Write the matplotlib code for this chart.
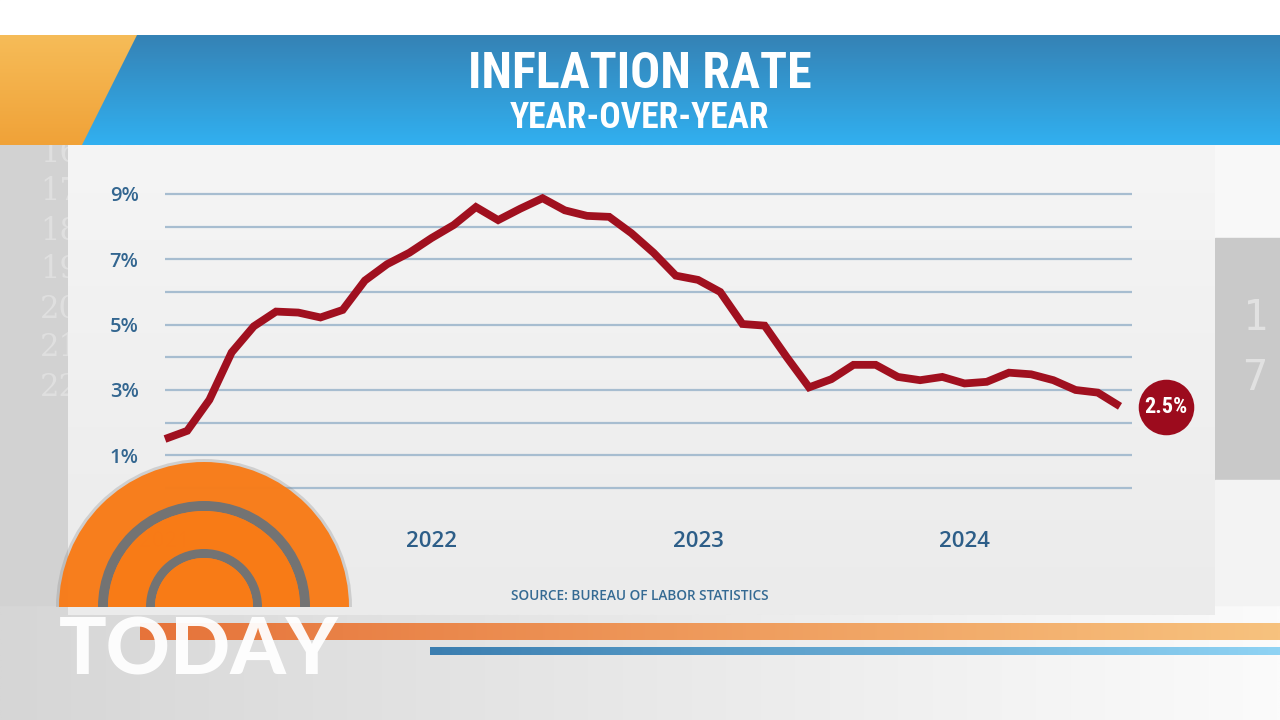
import numpy as np
import matplotlib
matplotlib.use('Agg')
import matplotlib.pyplot as plt
import matplotlib.transforms as mtransforms
from matplotlib import font_manager
from matplotlib.patches import Polygon, Rectangle, Wedge
from matplotlib.colors import to_rgb

# year-over-year inflation, monthly, Jan 2021 .. Aug 2024
rate_2021 = [1.5, 1.75, 2.7, 4.15, 4.95, 5.4, 5.37, 5.22, 5.45, 6.35, 6.85, 7.2]
rate_2022 = [7.65, 8.05, 8.6, 8.2, 8.55, 8.87, 8.5, 8.33, 8.3, 7.8, 7.2, 6.5]
rate_2023 = [6.37, 6.0, 5.02, 4.97, 4.0, 3.08, 3.33, 3.77, 3.77, 3.4, 3.3, 3.4]
rate_2024 = [3.2, 3.25, 3.53, 3.48, 3.3, 3.0, 2.92, 2.5]
rates = rate_2021 + rate_2022 + rate_2023 + rate_2024
months = np.arange(len(rates))

year_labels = ['2021', '2022', '2023', '2024']
year_ticks = [0, 12, 24, 36]
pct_ticks = [1, 3, 5, 7, 9]
pct_minor = [0, 2, 4, 6, 8]

title = 'INFLATION RATE'
subtitle = 'YEAR-OVER-YEAR'
source = 'SOURCE: BUREAU OF LABOR STATISTICS'

avail = {f.name for f in font_manager.fontManager.ttflist}
def pick(*names):
    for n in names:
        if n in avail:
            return n
    return 'DejaVu Sans'

narrow = pick('Roboto Condensed', 'Liberation Sans Narrow', 'Roboto', 'DejaVu Sans')
# the broadcast title face is very condensed: shrink wider fonts a bit
if narrow in ('Roboto Condensed', 'Liberation Sans Narrow'):
    title_size, sub_size = 36, 25.6
else:
    title_size, sub_size = 33, 22
body = pick('Open Sans', 'Lato', 'DejaVu Sans')
logo_font = pick('Lato', 'DejaVu Sans')

W, H = 1280, 720
fig = plt.figure(figsize=(12.8, 7.2), dpi=100)
fig.patch.set_facecolor('#e9e9e9')

bg = fig.add_axes([0, 0, 1, 1], zorder=0)
bg.axis('off')


def grad(ax, x0, x1, y0, y1, c0, c1, vertical=False, clip=None, z=0):
    t = np.linspace(0, 1, 256)[:, None]
    a, b = np.array(to_rgb(c0)), np.array(to_rgb(c1))
    col = a + (b - a) * t
    img = col[:, None, :] if vertical else col[None, :, :]
    im = ax.imshow(img, extent=(x0, x1, y1, y0), origin='upper',
                   aspect='auto', zorder=z, interpolation='bilinear')
    if clip is not None:
        im.set_clip_path(clip)
    return im


# white top strip
bg.add_patch(Rectangle((0, 0), W, 36, color='white', zorder=0))
# lower background
grad(bg, 0, W, 600, H, '#d6d6d6', '#fbfbfb', z=0)
# left grey strip with faint numbers
bg.add_patch(Rectangle((0, 145), 70, 460, color='#d2d2d2', zorder=1))
for i, s in enumerate(['16', '17', '18', '19', '20', '21', '22']):
    bg.text(40, 153 + i * 39, s, color='white', alpha=0.3, fontsize=22,
            family='DejaVu Serif', va='center', zorder=1.2)
# right grey box
bg.add_patch(Rectangle((1215, 145), 65, 95, color='#f8f8f8', zorder=1))
bg.add_patch(Rectangle((1215, 238), 65, 242, color='#c9c9c9', zorder=1))
bg.add_patch(Rectangle((1215, 480), 65, 125, color='#f3f3f3', zorder=1))
bg.text(1255, 318, '1', color='white', alpha=0.45, fontsize=30,
        family='DejaVu Sans Mono', ha='center', va='center', zorder=1.2)
bg.text(1255, 378, '7', color='white', alpha=0.45, fontsize=30,
        family='DejaVu Sans Mono', ha='center', va='center', zorder=1.2)
# chart panel
grad(bg, 68, 1215, 145, 615, '#f5f5f5', '#ebebeb', vertical=True, z=2)

# banner
grad(bg, 0, W, 35, 145, '#3582b5', '#31b0f0', vertical=True, z=3)
orange_poly = Polygon([(0, 35), (137, 35), (82, 145), (0, 145)],
                      closed=True, transform=bg.transData)
grad(bg, 0, 140, 35, 145, '#f6bc58', '#f0a238', vertical=True,
     clip=orange_poly, z=3.5)
bg.text(640, 74, title, color='white', fontsize=title_size, fontweight='bold',
        family=narrow, ha='center', va='center', zorder=4)
bg.text(640, 118, subtitle, color='white', fontsize=sub_size,
        fontweight='bold', family=narrow, ha='center', va='center', zorder=4)

# bottom bars
grad(bg, 140, W, 623, 640, '#e6733a', '#f7c27e', z=4)
grad(bg, 430, W, 647, 655, '#3b7eb0', '#8fd3f4', z=4)

bg.text(640, 596, source, color='#356a93', fontsize=9.8, fontweight='semibold',
        family=body, ha='center', va='center', zorder=4)

bg.set_xlim(0, W)
bg.set_ylim(H, 0)

# ---------------- chart ----------------
px_month = 955 / 43
px_pct = 32.67
ylo, yhi = -0.3, 9.3
xhi = (1132 - 165) / px_month
left = 165 / W
bottom = (720 - (488 - ylo * px_pct)) / H
ax = fig.add_axes([left, bottom, (1132 - 165) / W, (yhi - ylo) * px_pct / H],
                  zorder=1)
ax.set_facecolor('none')
for sp in ax.spines.values():
    sp.set_visible(False)
ax.set_xlim(0, xhi)
ax.set_ylim(ylo, yhi)

ax.set_yticks(pct_ticks, [f'{v}%' for v in pct_ticks])
ax.set_yticks(pct_minor, minor=True)
ax.set_xticks(year_ticks, year_labels)
ax.grid(axis='y', which='both', color='#a7bdd0', lw=1.6)
ax.tick_params(axis='both', which='both', length=0)
ax.tick_params(axis='y', pad=19, labelsize=14.5, labelcolor='#336690')
ax.tick_params(axis='x', pad=24, labelsize=16, labelcolor='#2d5e88')
for lab in ax.get_xticklabels() + ax.get_yticklabels():
    lab.set_family(body)
    lab.set_fontweight('semibold')

ax.plot(months, rates, color='#a0101f', lw=5.6, solid_joinstyle='miter',
        solid_capstyle='butt', clip_on=False, zorder=3)

trans = mtransforms.offset_copy(ax.transData, fig=fig, x=46, y=-1, units='dots')
ax.plot([months[-1]], [rates[-1]], 'o', ms=40, color='#9c0b1d', mec='none',
        transform=trans, clip_on=False, zorder=4)
ax.text(months[-1], rates[-1], f'{rates[-1]:.1f}%', transform=trans,
        color='white', fontsize=16, fontweight='bold', family=narrow,
        ha='center', va='center', zorder=5)

# ---------------- logo overlay ----------------
ov = fig.add_axes([0, 0, 1, 1], zorder=2)
ov.set_facecolor('none')
ov.axis('off')
cx, cy = 204, 607
orange = '#f97b16'
gap = '#737373'
ov.add_patch(Wedge((cx, cy), 148, 180, 360, color='#8a8a8a', alpha=0.3, lw=0))
ov.add_patch(Wedge((cx, cy), 145, 180, 360, color=orange, alpha=0.96, lw=0))
ov.add_patch(Wedge((cx, cy), 106, 180, 360, width=10, color=gap, lw=0))
ov.add_patch(Wedge((cx, cy), 96, 180, 360, width=38, color=orange, alpha=0.92, lw=0))
ov.add_patch(Wedge((cx, cy), 58, 180, 360, width=9, color=gap, lw=0))
ov.add_patch(Wedge((cx, cy), 49, 180, 360, color=orange, alpha=0.96, lw=0))
ov.text(199, 652, 'TODAY', color='white', alpha=0.95, fontsize=57,
        fontweight='black', family=logo_font, ha='center', va='center')
ov.set_xlim(0, W)
ov.set_ylim(H, 0)

fig.savefig('out.png', dpi=100)
